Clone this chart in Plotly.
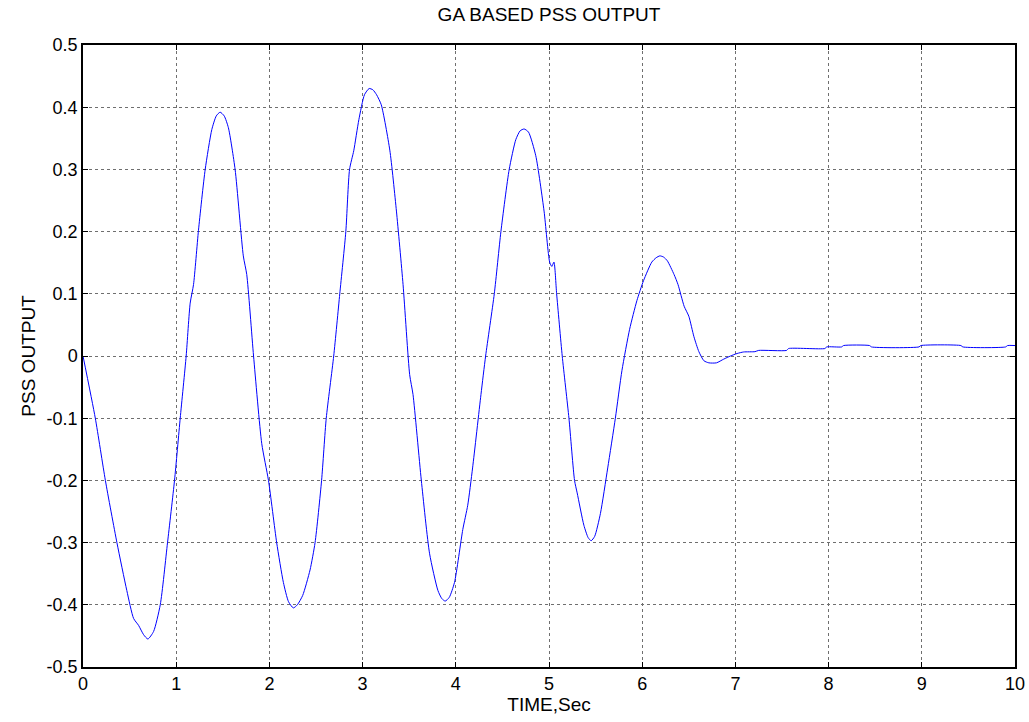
import plotly.graph_objects as go

time_s = [0.0, 0.132, 0.24, 0.364, 0.47, 0.543, 0.596, 0.65, 0.696, 0.757, 0.829, 0.907, 0.982,
          1.043, 1.107, 1.15, 1.186, 1.239, 1.311, 1.382, 1.43, 1.471, 1.515, 1.56, 1.632, 1.72, 1.757,
          1.83, 1.918, 1.99, 2.078, 2.15, 2.205, 2.257, 2.3, 2.357, 2.436, 2.49, 2.56, 2.61, 2.69,
          2.755, 2.82, 2.86, 2.905, 2.96, 3.02, 3.07, 3.11, 3.15, 3.2, 3.292, 3.363, 3.434, 3.505,
          3.541, 3.63, 3.719, 3.808, 3.85, 3.886, 3.93, 3.986, 4.075, 4.128, 4.18, 4.27, 4.32, 4.413,
          4.484, 4.573, 4.644, 4.69, 4.733, 4.78, 4.858, 4.947, 5.007, 5.03, 5.053, 5.082, 5.142,
          5.214, 5.274, 5.302, 5.374, 5.42, 5.452, 5.49, 5.552, 5.63, 5.712, 5.783, 5.865, 5.943,
          6.014, 6.103, 6.15, 6.19, 6.23, 6.27, 6.342, 6.384, 6.45, 6.5, 6.555, 6.608, 6.662, 6.715,
          6.797, 6.875, 6.947, 7.018, 7.089, 7.21, 7.25, 7.55, 7.57, 7.96, 7.98, 8.14, 8.16, 8.44,
          8.46, 8.97, 8.99, 9.42, 9.44, 9.9, 9.92, 10.0]
pss_output = [0.0, -0.1, -0.2, -0.3, -0.377, -0.422, -0.433, -0.448, -0.455, -0.443, -0.4, -0.3, -0.2,
              -0.1, 0.0, 0.085, 0.115, 0.202, 0.3, 0.364, 0.386, 0.392, 0.386, 0.367, 0.3, 0.161, 0.131,
              0.0, -0.141, -0.2, -0.3, -0.364, -0.395, -0.405, -0.4, -0.385, -0.344, -0.3, -0.2, -0.1, 0.0,
              0.1, 0.2, 0.3, 0.33, 0.38, 0.42, 0.43, 0.428, 0.42, 0.404, 0.331, 0.233, 0.115, -0.03,
              -0.062, -0.2, -0.318, -0.377, -0.39, -0.394, -0.388, -0.364, -0.279, -0.24, -0.18, -0.062, 0.0, 0.1,
              0.2, 0.3, 0.348, 0.362, 0.365, 0.36, 0.322, 0.233, 0.151, 0.144, 0.151, 0.1, 0.0,
              -0.1, -0.2, -0.22, -0.272, -0.292, -0.297, -0.29, -0.253, -0.18, -0.1, -0.023, 0.043, 0.089,
              0.121, 0.151, 0.158, 0.161, 0.159, 0.153, 0.131, 0.115, 0.08, 0.064, 0.031, 0.007, -0.0076, -0.011,
              -0.011, -0.005, 0.0, 0.004, 0.0065, 0.007, 0.009, 0.009, 0.012, 0.012, 0.0146, 0.0146, 0.0168, 0.0168,
              0.0146, 0.0146, 0.0168, 0.0168, 0.0146, 0.0146, 0.0168, 0.0168]

x_ticks = [0, 1, 2, 3, 4, 5, 6, 7, 8, 9, 10]
y_ticks = [-0.5, -0.4, -0.3, -0.2, -0.1, 0, 0.1, 0.2, 0.3, 0.4, 0.5]
y_tick_labels = ["-0.5", "-0.4", "-0.3", "-0.2", "-0.1", "0", "0.1", "0.2", "0.3", "0.4", "0.5"]

fig = go.Figure()
fig.add_trace(go.Scatter(x=time_s, y=pss_output, mode="lines",
                         line=dict(color="#0000ff", width=1, shape="spline", smoothing=0.6),
                         showlegend=False))

font = "Liberation Sans, Arial, sans-serif"
axis_common = dict(showline=True, linecolor="black", linewidth=1.5, mirror="ticks",
                   ticks="inside", ticklen=5, tickcolor="black", automargin=False,
                   showgrid=True, gridcolor="#6f6f6f", griddash="dot", gridwidth=1,
                   zeroline=False, tickfont=dict(family=font, size=18, color="black"))

fig.update_layout(
    width=1029, height=722,
    margin=dict(l=83, r=14, t=45, b=55),
    paper_bgcolor="white", plot_bgcolor="white",
    title=dict(text="GA BASED PSS OUTPUT", x=(83 + 1015) / 2 / 1029, xanchor="center",
               y=1 - 14 / 722, yanchor="middle",
               font=dict(family=font, size=19, color="black")),
    xaxis=dict(range=[0, 10], tickvals=x_ticks,
               title=dict(text="TIME,Sec", font=dict(family=font, size=19, color="black"), standoff=0),
               **axis_common),
    yaxis=dict(range=[-0.5, 0.5], tickvals=y_ticks, ticktext=y_tick_labels,
               title=dict(text="PSS OUTPUT", font=dict(family=font, size=19, color="black"), standoff=6),
               **axis_common),
)

fig.write_html("out.html")
